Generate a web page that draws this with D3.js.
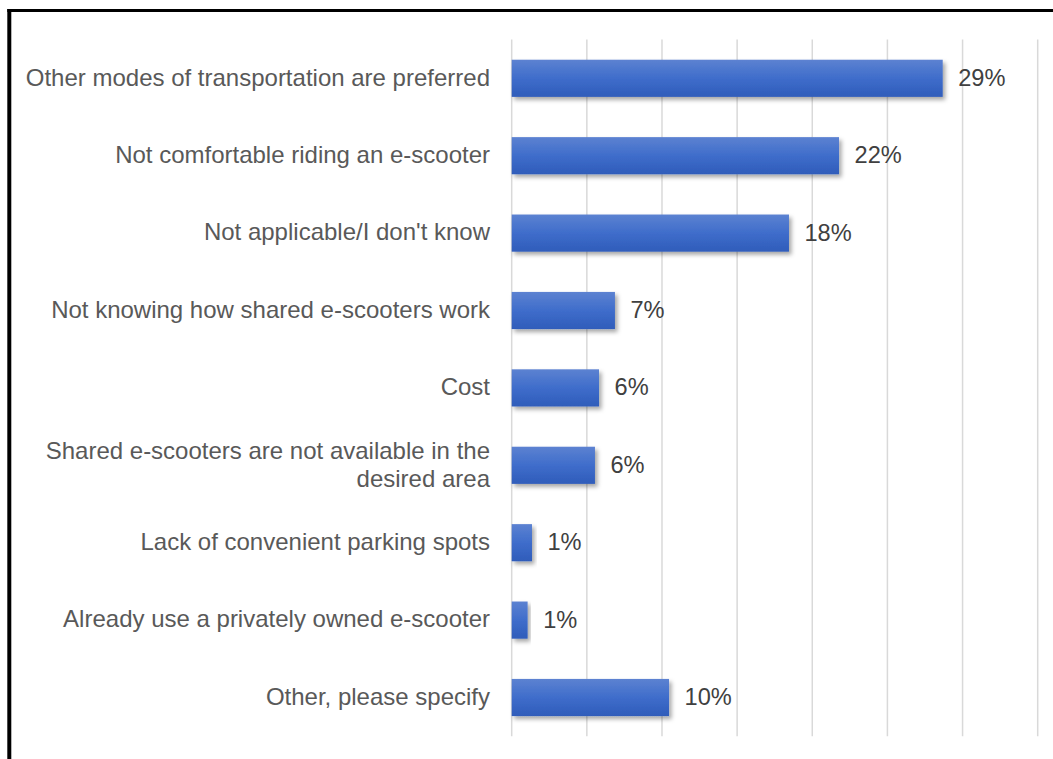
<!DOCTYPE html>
<html>
<head>
<meta charset="utf-8">
<script src="https://cdn.jsdelivr.net/npm/d3@7"></script>
<style>
  html, body { margin: 0; padding: 0; background: #ffffff; }
  svg { display: block; }
</style>
</head>
<body>
<script>
const categories = [
  "Other modes of transportation are preferred",
  "Not comfortable riding an e-scooter",
  "Not applicable/I don't know",
  "Not knowing how shared e-scooters work",
  "Cost",
  "Shared e-scooters are not available in the|desired area",
  "Lack of convenient parking spots",
  "Already use a privately owned e-scooter",
  "Other, please specify"
];
const values = [0.2868, 0.2178, 0.1845, 0.0687, 0.0581, 0.0554, 0.0135, 0.0106, 0.1047];
const valueLabels = ["29%", "22%", "18%", "7%", "6%", "6%", "1%", "1%", "10%"];
const tickValues = [0, 0.05, 0.10, 0.15, 0.20, 0.25, 0.30, 0.35];

const W = 1053, H = 759;
const svg = d3.select("body").append("svg").attr("width", W).attr("height", H);

const defs = svg.append("defs");
const grad = defs.append("linearGradient").attr("id", "barGrad")
  .attr("x1", 0).attr("y1", 0).attr("x2", 0).attr("y2", 1);
grad.append("stop").attr("offset", "0%").attr("stop-color", "#5c82d1");
grad.append("stop").attr("offset", "50%").attr("stop-color", "#3f6dcb");
grad.append("stop").attr("offset", "100%").attr("stop-color", "#2f5cba");
const filt = defs.append("filter").attr("id", "shadow")
  .attr("x", "-10%").attr("y", "-20%").attr("width", "130%").attr("height", "160%");
filt.append("feDropShadow").attr("dx", 2.5).attr("dy", 3).attr("stdDeviation", 2)
  .attr("flood-color", "#000").attr("flood-opacity", 0.35);

const x = d3.scaleLinear().domain([0, 0.35]).range([511.7, 1037.7]);
const y = d3.scaleBand().domain(categories).range([39.6, 736.2]).paddingInner(0.52).paddingOuter(0.26);

// gridlines
svg.append("g").selectAll("line").data(tickValues).join("line")
  .attr("x1", d => x(d)).attr("x2", d => x(d))
  .attr("y1", 39.6).attr("y2", 736.2)
  .attr("stroke", "#d9d9d9").attr("stroke-width", 1.5);

// bars
svg.append("g").selectAll("rect").data(categories).join("rect")
  .attr("x", x(0))
  .attr("y", d => y(d))
  .attr("width", (d, i) => x(values[i]) - x(0))
  .attr("height", y.bandwidth())
  .attr("fill", "url(#barGrad)")
  .attr("filter", "url(#shadow)");

// value labels
svg.append("g").selectAll("text").data(categories).join("text")
  .attr("x", (d, i) => x(values[i]) + 15.5)
  .attr("y", d => y(d) + y.bandwidth() / 2)
  .attr("dy", "0.32em")
  .attr("font-family", "Liberation Sans, Arial, sans-serif")
  .attr("font-size", 23.6)
  .attr("fill", "#404040")
  .text((d, i) => valueLabels[i]);

// category labels
const catG = svg.append("g");
categories.forEach(c => {
  const lines = c.split("|");
  const cy = y(c) + y.bandwidth() / 2;
  const lh = 28;
  const t = catG.append("text")
    .attr("text-anchor", "end")
    .attr("font-family", "Liberation Sans, Arial, sans-serif")
    .attr("font-size", 24)
    .attr("fill", "#595959");
  lines.forEach((ln, k) => {
    t.append("tspan")
      .attr("x", 490)
      .attr("y", cy + (k - (lines.length - 1) / 2) * lh)
      .attr("dy", "0.3em")
      .text(ln);
  });
});

// frame lines (left & top)
svg.append("line").attr("x1", 9.3).attr("x2", 9.3).attr("y1", 9).attr("y2", H)
  .attr("stroke", "#000").attr("stroke-width", 4);
svg.append("line").attr("x1", 7.3).attr("x2", W).attr("y1", 10.5).attr("y2", 10.5)
  .attr("stroke", "#000").attr("stroke-width", 3);
</script>
</body>
</html>
